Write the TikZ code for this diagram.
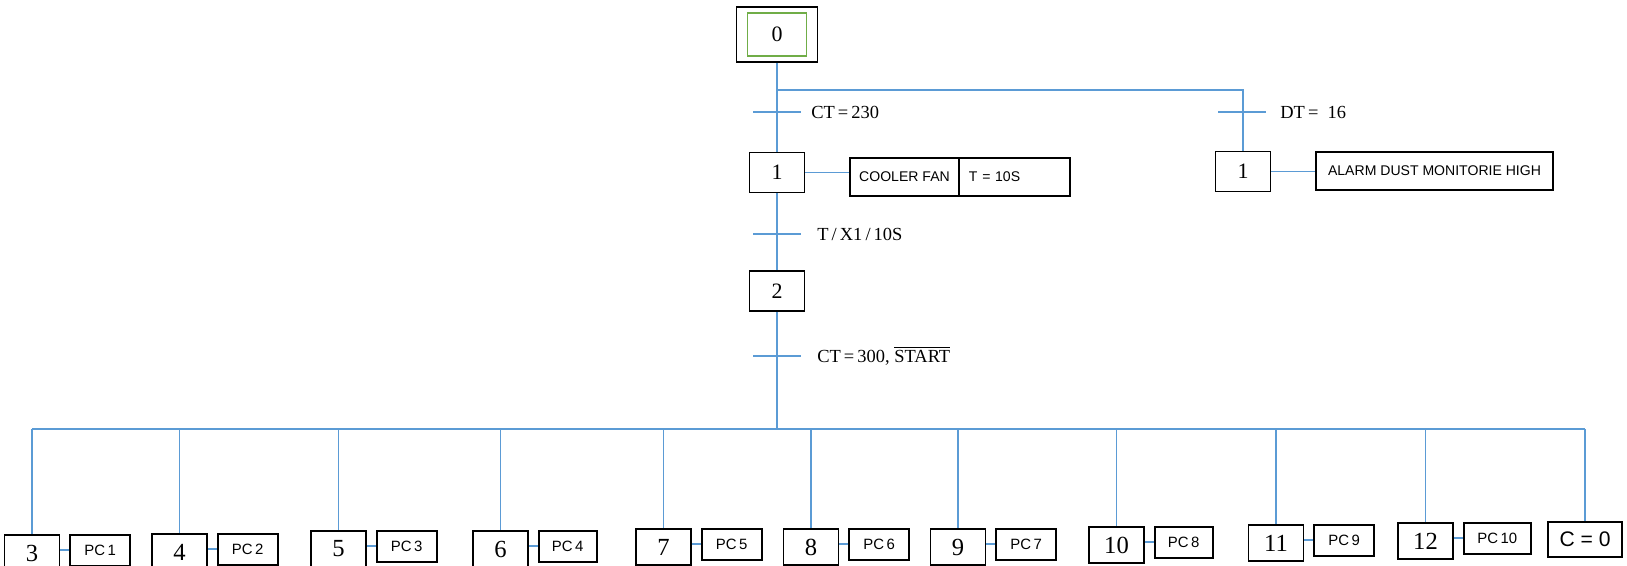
\documentclass[tikz,border=0pt]{standalone}
\usepackage{fontspec}
\setmainfont{Liberation Serif}
\setsansfont{Liberation Sans}
\usetikzlibrary{positioning, calc}
\definecolor{cLine}{RGB}{91,155,213}
\definecolor{cInit}{RGB}{112,173,71}
\tikzset{
	stepbox/.style={rectangle, draw=black, line width=1pt, minimum width=1.1cm, minimum height=0.8cm, inner sep=0pt, font=\fontsize{12.5}{14}\selectfont},
	initbox/.style={stepbox, minimum width=1.62cm, minimum height=1.1cm},
	lowbox/.style={stepbox, minimum height=0.72cm, font=\fontsize{14}{16}\selectfont},
	actbox/.style={rectangle, draw=black, line width=1pt, minimum height=0.76cm, inner sep=0pt, font=\sffamily\fontsize{8}{10}\selectfont},
	pcbox/.style={actbox, minimum width=1.2cm, minimum height=0.62cm, font=\sffamily\fontsize{8.5}{10}\selectfont},
	link/.style={draw=cLine, line width=1pt},
	trlabel/.style={anchor=west, inner sep=0pt, font=\fontsize{10.5}{12}\selectfont},
}

\begin{document}
\begin{tikzpicture}[x=0.02cm, y=-0.02cm]
	\useasboundingbox (0,0) rectangle (1627,565);
	% initial step
	\node[initbox] (s0) at (777,34.5) {};
	\node[draw=cInit, line width=0.8pt, minimum width=1.18cm, minimum height=0.86cm, inner sep=0pt, font=\fontsize{12.5}{14}\selectfont] (s0in) at (s0) {0};
	% main chain
	\node[stepbox] (s1) at (777,172.5) {1};
	\node[stepbox] (s2) at (777,291) {2};
	\coordinate (br) at (777,90);
	\node[stepbox] (a1) at (1243,171.5) {1};
	\draw[link] (s0) -- (s1);
	\draw[link] (s1) -- (s2);
	\draw[link] (br) -| (a1);
	% transitions
	\coordinate (t1) at (777,112);
	\coordinate (t2) at (1242,112);
	\coordinate (t3) at (777,234);
	\coordinate (t4) at (777,356);
	\foreach \t in {t1,t2,t3,t4}
		\draw[link] ($(\t)+(-24,0)$) -- ($(\t)+(24,0)$);
	\node[trlabel] (l1) at (811,112) {CT\,=\,230};
	\node[trlabel] (l2) at (1280,112) {DT\,= \ 16};
	\node[trlabel] (l3) at (817,234) {T\,/\,X1\,/\,10S};
	\node[trlabel] (l4) at (817,356) {CT\,=\,300, \(\overline{\hbox{START}}\)};
	% actions
	\node[actbox, minimum width=2.18cm] (fan) at (904.5,177) {COOLER FAN};
	\node[actbox, text width=1.82cm, inner xsep=0.2cm, align=left, right=-1pt of fan] (tim) {T = 10S};
	\draw[link] (s1.east) -- (s1.east -| fan.west);
	\node[actbox, minimum width=4.74cm] (alarm) at (1434.5,171) {ALARM DUST MONITORIE HIGH};
	\draw[link] (a1.east) -- (a1.east -| alarm.west);
	% parallel branches
	\coordinate (busL) at (32,429);
	\coordinate (busR) at (1585,429);
	\draw[link] (busL) -- (busR);
	\draw[link] (s2) -- (s2.south |- busL);
	\foreach \n/\x/\y/\pw [evaluate=\n as \k using int(\n-2)] in {3/32/553/60, 4/179.5/552/60, 5/338.5/549/60, 6/500.5/549/58, 7/663.5/547/60, 8/811/547/60, 9/958/547/60, 10/1116.5/545/58, 11/1276/543/60, 12/1425.5/541/67} {
		\node[lowbox] (s\n) at (\x,\y) {\n};
		\node[pcbox, minimum width=\pw*0.02cm, right=0.18cm of s\n, yshift=1.5pt] (pc\k) {PC\,\k};
		\draw[link] (s\n.north |- busL) -- (s\n.north);
		\draw[link] (pc\k.west) -- (pc\k.west -| s\n.east);
	}
	\node[actbox, minimum width=1.48cm, minimum height=0.7cm, font=\sffamily\fontsize{12}{14}\selectfont] (c0) at (1585,539.5) {C = 0};
	\draw[link] (busR) -- (c0);
\end{tikzpicture}
\end{document}
